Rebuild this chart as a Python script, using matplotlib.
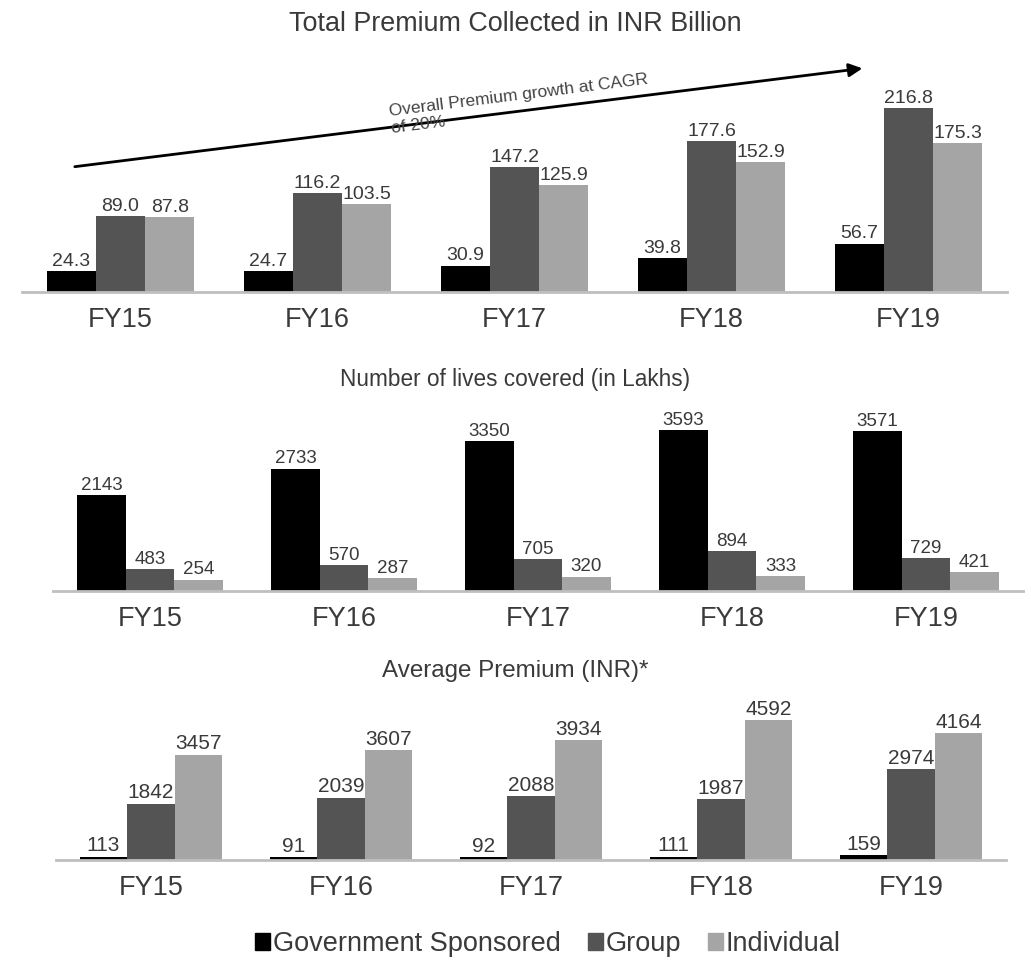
import numpy as np
import matplotlib.pyplot as plt
from matplotlib.patches import Patch

plt.rcParams['font.family'] = ['Liberation Sans', 'DejaVu Sans']

years = ['FY15', 'FY16', 'FY17', 'FY18', 'FY19']
series = ['Government Sponsored', 'Group', 'Individual']
colors = ['#000000', '#545454', '#a5a5a5']

premium_gov = [24.3, 24.7, 30.9, 39.8, 56.7]
premium_group = [89.0, 116.2, 147.2, 177.6, 216.8]
premium_ind = [87.8, 103.5, 125.9, 152.9, 175.3]

lives_gov = [2143, 2733, 3350, 3593, 3571]
lives_group = [483, 570, 705, 894, 729]
lives_ind = [254, 287, 320, 333, 421]

avg_gov = [113, 91, 92, 111, 159]
avg_group = [1842, 2039, 2088, 1987, 2974]
avg_ind = [3457, 3607, 3934, 4592, 4164]

TXT = '#3a3a3a'
W, H = 1031, 960
fig = plt.figure(figsize=(W / 100, H / 100), dpi=100)


def px_axes(left, right, top, bottom):
    return fig.add_axes([left / W, 1 - bottom / H, (right - left) / W, (bottom - top) / H])


def bar_panel(ax, data, fmt, ymax, title, title_y, title_size, label_size):
    x = np.arange(len(years))
    w = 0.25
    for i, vals in enumerate(data):
        bars = ax.bar(x + (i - 1) * w, vals, w, color=colors[i], zorder=2)
        ax.bar_label(bars, labels=[fmt.format(v) for v in vals], padding=1,
                     fontsize=label_size, color=TXT)
    ax.set_xlim(-0.5, len(years) - 0.5)
    ax.set_ylim(0, ymax)
    ax.set_xticks(x)
    ax.set_xticklabels(years, fontsize=19.5, color=TXT)
    ax.tick_params(axis='x', length=0, pad=11)
    ax.set_yticks([])
    for s in ['top', 'left', 'right']:
        ax.spines[s].set_visible(False)
    ax.spines['bottom'].set_color('#bfbfbf')
    ax.spines['bottom'].set_linewidth(2)
    fig.text(0.5, 1 - title_y / H, title, ha='center', va='center',
             fontsize=title_size, color=TXT)


# premium collected
ax1 = px_axes(22, 1007, 40, 292)
bar_panel(ax1, [premium_gov, premium_group, premium_ind], '{:.1f}', 252 / 0.849,
          'Total Premium Collected in INR Billion', 24, 19.4, 14)
ax1.annotate('', xy=(3.78, 263.8), xytext=(-0.246, 147.2),
             arrowprops=dict(arrowstyle='-|>', color='black', lw=2, mutation_scale=20))
ax1.text(1.368, 207.3, 'Overall Premium growth at CAGR', fontsize=12.5, color='#444444',
         rotation=7.1, rotation_mode='anchor', ha='left', va='baseline')
ax1.text(1.378, 187.3, 'of 20%', fontsize=12.5, color='#444444',
         rotation=7.1, rotation_mode='anchor', ha='left', va='baseline')

# lives covered
ax2 = px_axes(53, 1023, 400, 591)
bar_panel(ax2, [lives_gov, lives_group, lives_ind], '{:d}', 191 / 0.0448,
          'Number of lives covered (in Lakhs)', 380, 16.3, 13.5)

# average premium
ax3 = px_axes(56, 1006, 690, 860)
bar_panel(ax3, [avg_gov, avg_group, avg_ind], '{:d}', 170 / 0.0305,
          'Average Premium (INR)*', 671, 17.4, 15)

handles = [Patch(color=c) for c in colors]
fig.legend(handles, series, loc='center', bbox_to_anchor=(548 / W, 1 - 944 / H), ncol=3,
           frameon=False, fontsize=19.5, labelcolor=TXT, handlelength=0.55, handleheight=0.55,
           handletextpad=0.1, columnspacing=1.0)

fig.savefig('out.png', dpi=100)
